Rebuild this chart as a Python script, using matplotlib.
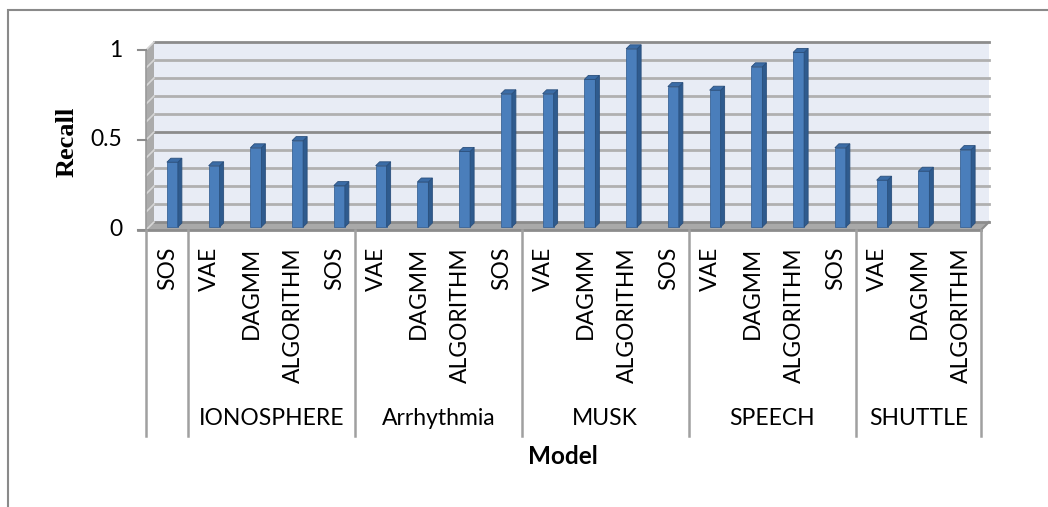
import matplotlib.pyplot as plt
from matplotlib.patches import Polygon, Rectangle
from matplotlib.lines import Line2D

# recall per model, grouped by dataset (first SOS bar has no dataset label)
groups = ['', 'IONOSPHERE', 'Arrhythmia', 'MUSK', 'SPEECH', 'SHUTTLE']
models = [
    ['SOS'],
    ['VAE', 'DAGMM', 'ALGORITHM', 'SOS'],
    ['VAE', 'DAGMM', 'ALGORITHM', 'SOS'],
    ['VAE', 'DAGMM', 'ALGORITHM', 'SOS'],
    ['VAE', 'DAGMM', 'ALGORITHM', 'SOS'],
    ['VAE', 'DAGMM', 'ALGORITHM'],
]
recall = [
    [0.36],
    [0.34, 0.44, 0.48, 0.23],
    [0.34, 0.25, 0.42, 0.74],
    [0.74, 0.82, 0.99, 0.78],
    [0.76, 0.89, 0.97, 0.44],
    [0.26, 0.31, 0.43],
]
y_ticks = [0, 0.5, 1]

labels = [m for g in models for m in g]
values = [v for g in recall for v in g]
n = len(values)

W, H = 1048, 507
fig = plt.figure(figsize=(W / 100, H / 100), dpi=100)

# plot area: front floor edge 146..981 px, y=0 at 230 px, y=1 at 50 px
x0_px, x1_px, y0_px, y1_px = 146, 981, 230, 50
ax = fig.add_axes([x0_px / W, 1 - y0_px / H, (x1_px - x0_px) / W, (y0_px - y1_px) / H])
ax.set_xlim(-0.5, n - 0.5)
ax.set_ylim(0, 1)
ax.axis('off')

sx = (x1_px - x0_px) / n      # px per category
sy = (y0_px - y1_px) / 1.0    # px per unit of recall

def px(dx, dy):
    return dx / sx, dy / sy

wdx, wdy = px(8, 8)           # depth of the 3d walls
xl, xr = -0.5, n - 0.5

def poly(pts, fc, ec='none', lw=0, z=1):
    ax.add_patch(Polygon(pts, closed=True, facecolor=fc, edgecolor=ec,
                         linewidth=lw, zorder=z, clip_on=False))

# back wall, side wall and floor
poly([(xl + wdx, wdy), (xr + wdx, wdy), (xr + wdx, 1 + wdy), (xl + wdx, 1 + wdy)], '#E8ECF5', z=1)
poly([(xl, 0), (xl + wdx, wdy), (xl + wdx, 1 + wdy), (xl, 1)], '#ABABAB', z=1)
poly([(xl, 0), (xr, 0), (xr + wdx, wdy), (xl + wdx, wdy)], '#A9A9A9', z=2)
ax.add_line(Line2D([xl, xr + wdx], [1 + wdy, 1 + wdy], color='#8C8C8C', lw=2, zorder=2))

# gridlines on back wall and side wall
for k in range(0, 11):
    v = k / 10
    major = k in (0, 5, 10)
    col = '#8C8C8C' if major else '#B0B0B0'
    ax.add_line(Line2D([xl + wdx, xr + wdx], [v + wdy, v + wdy], color=col,
                       lw=2, zorder=2, clip_on=False))
    ax.add_line(Line2D([xl, xl + wdx], [v, v + wdy], color='#D6D6D6',
                       lw=1.2, zorder=2, clip_on=False))

# front edges, floor line and y ticks
ax.add_line(Line2D([xl, xl], [0, 1], color='#9A9A9A', lw=1.2, zorder=3, clip_on=False))
tick_len = 8 / sx
ax.add_line(Line2D([xl - tick_len, xr], [0, 0], color='#8C8C8C', lw=2, zorder=3, clip_on=False))
ax.add_line(Line2D([xr, xr + wdx], [0, wdy], color='#8C8C8C', lw=1.5, zorder=3, clip_on=False))
for t in y_ticks:
    ax.add_line(Line2D([xl - tick_len, xl], [t, t], color='#8C8C8C', lw=1.5,
                       zorder=3, clip_on=False))
    ax.text(xl - 24 / sx, t, f'{t:g}', ha='right', va='center',
            fontsize=16.5, family='Lato', color='black')

# 3d columns
bw = 11 / sx
bdx, bdy = px(4, 4)
sh_x, sh_y = px(3, 3)
for i, v in enumerate(values):
    fx = i + sh_x - bw / 2 + 0.06
    fy = sh_y
    top = fy + v
    poly([(fx, fy), (fx + bw, fy), (fx + bw, top), (fx, top)], '#4A7EBB', ec='#3A6497', lw=0.6, z=5)
    poly([(fx + bw, fy), (fx + bw + bdx, fy + bdy), (fx + bw + bdx, top + bdy), (fx + bw, top)],
         '#2F5B8E', ec='#2A4F7C', lw=0.6, z=5)
    poly([(fx, top), (fx + bw, top), (fx + bw + bdx, top + bdy), (fx + bdx, top + bdy)],
         '#3B6CA6', ec='#2A4F7C', lw=0.6, z=5)

# category axis: model labels, dataset labels and separators
lab_top = (y0_px - 247) / sy
grp_y = (y0_px - 419) / sy
sep_bot = (y0_px - 436) / sy
for i, lab in enumerate(labels):
    ax.text(i + 0.02, lab_top, lab, rotation=90, ha='center', va='top',
            fontsize=16.5, family='Lato', color='black')

start = 0
bounds = [0]
for g, ms in zip(groups, models):
    end = start + len(ms)
    bounds.append(end)
    if g:
        ax.text((start + end) / 2 - 0.5, grp_y, g, ha='center', va='center',
                fontsize=16.5, family='Lato', color='black')
    start = end
for b in bounds:
    ax.add_line(Line2D([b - 0.5, b - 0.5], [0, sep_bot], color='#A0A0A0', lw=1.8,
                       zorder=3, clip_on=False))

fig.text(563 / W, 1 - 457 / H, 'Model', ha='center', va='center',
         fontsize=17.5, family='Lato', fontweight='bold')
fig.text(67 / W, 1 - 142 / H, 'Recall', ha='center', va='center', rotation=90,
         fontsize=19, family='Liberation Serif', fontweight='bold')

# chart area border
fig.patches.append(Rectangle((8 / W, -0.1), 1.1, 1 - 10 / H + 0.1, transform=fig.transFigure,
                             fill=False, edgecolor='#8A8A8A', linewidth=1.5))

fig.savefig('out.png', dpi=100)
